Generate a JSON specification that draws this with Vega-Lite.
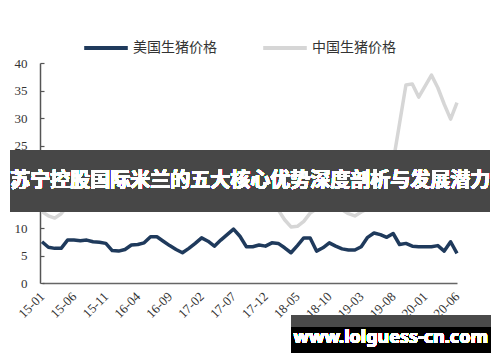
{
  "$schema": "https://vega.github.io/schema/vega-lite/v6.json",
  "width": 415,
  "height": 220,
  "autosize": "none",
  "padding": {"left": 42, "top": 63, "right": 43, "bottom": 79},
  "background": "white",
  "config": {"view": {"stroke": null}, "font": "Liberation Serif"},
  "data": {"values": [
    {"m":"15-01","美国生猪价格":7.5,"中国生猪价格":13.0},
    {"m":"15-02","美国生猪价格":6.5,"中国生猪价格":12.2},
    {"m":"15-03","美国生猪价格":6.3,"中国生猪价格":11.8},
    {"m":"15-04","美国生猪价格":6.3,"中国生猪价格":12.6},
    {"m":"15-05","美国生猪价格":7.8,"中国生猪价格":14.0},
    {"m":"15-06","美国生猪价格":7.8,"中国生猪价格":15.2},
    {"m":"15-07","美国生猪价格":7.7,"中国生猪价格":16.2},
    {"m":"15-08","美国生猪价格":7.8,"中国生猪价格":17.0},
    {"m":"15-09","美国生猪价格":7.5,"中国生猪价格":17.5},
    {"m":"15-10","美国生猪价格":7.4,"中国生猪价格":17.8},
    {"m":"15-11","美国生猪价格":7.2,"中国生猪价格":18.2},
    {"m":"15-12","美国生猪价格":5.9,"中国生猪价格":18.8},
    {"m":"16-01","美国生猪价格":5.8,"中国生猪价格":19.5},
    {"m":"16-02","美国生猪价格":6.1,"中国生猪价格":20.0},
    {"m":"16-03","美国生猪价格":6.9,"中国生猪价格":20.5},
    {"m":"16-04","美国生猪价格":7.0,"中国生猪价格":20.8},
    {"m":"16-05","美国生猪价格":7.3,"中国生猪价格":21.0},
    {"m":"16-06","美国生猪价格":8.4,"中国生猪价格":20.6},
    {"m":"16-07","美国生猪价格":8.4,"中国生猪价格":20.0},
    {"m":"16-08","美国生猪价格":7.6,"中国生猪价格":19.2},
    {"m":"16-09","美国生猪价格":6.8,"中国生猪价格":18.5},
    {"m":"16-10","美国生猪价格":6.1,"中国生猪价格":18.0},
    {"m":"16-11","美国生猪价格":5.5,"中国生猪价格":17.6},
    {"m":"16-12","美国生猪价格":6.3,"中国生猪价格":17.3},
    {"m":"17-01","美国生猪价格":7.2,"中国生猪价格":17.0},
    {"m":"17-02","美国生猪价格":8.2,"中国生猪价格":16.8},
    {"m":"17-03","美国生猪价格":7.6,"中国生猪价格":16.4},
    {"m":"17-04","美国生猪价格":6.7,"中国生猪价格":15.5},
    {"m":"17-05","美国生猪价格":7.8,"中国生猪价格":14.8},
    {"m":"17-06","美国生猪价格":8.8,"中国生猪价格":14.5},
    {"m":"17-07","美国生猪价格":9.8,"中国生猪价格":14.6},
    {"m":"17-08","美国生猪价格":8.5,"中国生猪价格":14.8},
    {"m":"17-09","美国生猪价格":6.6,"中国生猪价格":14.6},
    {"m":"17-10","美国生猪价格":6.6,"中国生猪价格":14.4},
    {"m":"17-11","美国生猪价格":6.9,"中国生猪价格":14.9},
    {"m":"17-12","美国生猪价格":6.7,"中国生猪价格":15.4},
    {"m":"18-01","美国生猪价格":7.3,"中国生猪价格":14.5},
    {"m":"18-02","美国生猪价格":7.2,"中国生猪价格":13.3},
    {"m":"18-03","美国生猪价格":6.4,"中国生猪价格":11.5},
    {"m":"18-04","美国生猪价格":5.5,"中国生猪价格":10.2},
    {"m":"18-05","美国生猪价格":6.8,"中国生猪价格":10.3},
    {"m":"18-06","美国生猪价格":8.2,"中国生猪价格":11.2},
    {"m":"18-07","美国生猪价格":8.2,"中国生猪价格":12.7},
    {"m":"18-08","美国生猪价格":5.8,"中国生猪价格":13.5},
    {"m":"18-09","美国生猪价格":6.4,"中国生猪价格":13.9},
    {"m":"18-10","美国生猪价格":7.3,"中国生猪价格":14.0},
    {"m":"18-11","美国生猪价格":6.7,"中国生猪价格":14.0},
    {"m":"18-12","美国生猪价格":6.2,"中国生猪价格":13.3},
    {"m":"19-01","美国生猪价格":6.0,"中国生猪价格":12.6},
    {"m":"19-02","美国生猪价格":6.0,"中国生猪价格":12.2},
    {"m":"19-03","美国生猪价格":6.6,"中国生猪价格":12.9},
    {"m":"19-04","美国生猪价格":8.3,"中国生猪价格":13.5},
    {"m":"19-05","美国生猪价格":9.1,"中国生猪价格":14.3},
    {"m":"19-06","美国生猪价格":8.8,"中国生猪价格":15.5},
    {"m":"19-07","美国生猪价格":8.3,"中国生猪价格":17.5},
    {"m":"19-08","美国生猪价格":9.0,"中国生猪价格":22.0},
    {"m":"19-09","美国生猪价格":7.0,"中国生猪价格":29.0},
    {"m":"19-10","美国生猪价格":7.2,"中国生猪价格":36.0},
    {"m":"19-11","美国生猪价格":6.7,"中国生猪价格":36.2},
    {"m":"19-12","美国生猪价格":6.6,"中国生猪价格":33.8},
    {"m":"20-01","美国生猪价格":6.6,"中国生猪价格":35.8},
    {"m":"20-02","美国生猪价格":6.6,"中国生猪价格":37.8},
    {"m":"20-03","美国生猪价格":6.8,"中国生猪价格":35.5},
    {"m":"20-04","美国生猪价格":5.8,"中国生猪价格":32.5},
    {"m":"20-05","美国生猪价格":7.5,"中国生猪价格":29.8},
    {"m":"20-06","美国生猪价格":5.4,"中国生猪价格":32.8}
  ]},
  "encoding": {
    "x": {"field": "m", "type": "ordinal", "sort": null, "scale": {"type": "point", "padding": 0},
      "axis": {"title": null, "values": ["15-01","15-06","15-11","16-04","16-09","17-02","17-07","17-12","18-05","18-10","19-03","19-08","20-01","20-06"],
        "labelAngle": -45, "labelAlign": "right", "labelBaseline": "middle", "labelPadding": 11, "ticks": false,
        "labelFont": "Liberation Serif", "labelFontSize": 13, "labelColor": "#333333", "labelOverlap": false,
        "domainColor": "#666666", "domainWidth": 1.5, "grid": false}},
    "y": {"type": "quantitative", "scale": {"domain": [0, 40], "nice": false},
      "axis": {"title": null, "values": [0,5,10,15,20,25,30,35,40], "offset": 2, "tickSize": -4, "tickColor": "#555555", "tickWidth": 1.2,
        "labelPadding": 17, "labelFont": "Liberation Serif", "labelFontSize": 13, "labelColor": "#333333",
        "domainColor": "#555555", "domainWidth": 1.5, "grid": false}}
  },
  "layer": [
    {
      "transform": [{"fold": ["美国生猪价格", "中国生猪价格"], "as": ["series", "price"]}],
      "mark": {"type": "line", "strokeWidth": 3.5, "strokeJoin": "round"},
      "encoding": {
        "y": {"field": "price", "type": "quantitative"},
        "color": {"field": "series", "type": "nominal",
          "scale": {"domain": ["美国生猪价格", "中国生猪价格"], "range": ["#1f3a5c", "#d6d6d6"]},
          "legend": {"title": null, "orient": "none", "legendX": 40, "legendY": -39, "direction": "horizontal",
            "symbolType": "stroke", "symbolSize": 1900, "symbolStrokeWidth": 4, "columnPadding": 38, "labelOffset": 3,
            "labelFont": "Noto Sans CJK SC", "labelFontSize": 14, "labelColor": "#333333"}}
      }
    },
    {
      "mark": {"type": "rect", "color": "#474747", "opacity": 0.9, "xOffset": -32, "x2Offset": 33},
      "encoding": {"x": {"datum": "15-01"}, "x2": {"datum": "20-06"}, "y": {"datum": 12.9}, "y2": {"datum": 24.2}}
    },
    {
      "mark": {"type": "text", "text": "苏宁控股国际米兰的五大核心优势深度剖析与发展潜力", "font": "Noto Sans CJK SC", "fontWeight": "bold",
        "fontSize": 20, "color": "white", "align": "center", "baseline": "middle", "dx": 4},
      "encoding": {"x": {"datum": "17-09"}, "y": {"datum": 18.55}}
    },
    {
      "mark": {"type": "rect", "color": "#4a4a4a", "opacity": 0.9, "x2Offset": 34},
      "encoding": {"x": {"datum": "18-04"}, "x2": {"datum": "20-06"}, "y": {"datum": -5.82}, "y2": {"datum": -8.0}}
    },
    {
      "mark": {"type": "rect", "color": "#000000", "x2Offset": 34},
      "encoding": {"x": {"datum": "18-04"}, "x2": {"datum": "20-06"}, "y": {"datum": -8.0}, "y2": {"datum": -12.73}}
    },
    {
      "mark": {"type": "text", "text": "www.lolguess-cn.com", "font": "Noto Sans", "fontWeight": "bold",
        "fontSize": 18, "color": "white", "align": "center", "baseline": "middle", "dx": 4},
      "encoding": {"x": {"datum": "19-07"}, "y": {"datum": -10.0}}
    }
  ]
}
